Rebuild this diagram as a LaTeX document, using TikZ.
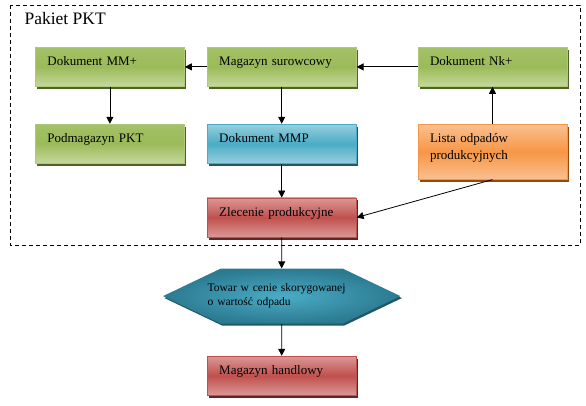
\documentclass[tikz,border=0pt]{standalone}
\usepackage{fontspec}
\setmainfont{Liberation Serif}
\usetikzlibrary{arrows.meta, shapes.symbols, positioning, shadows}
\definecolor{boxgreen}{RGB}{155,187,89}
\definecolor{boxgreenlight}{RGB}{197,216,156}
\definecolor{boxgreendark}{RGB}{79,98,40}
\definecolor{boxblue}{RGB}{75,172,198}
\definecolor{boxbluelight}{RGB}{150,207,222}
\definecolor{boxbluedark}{RGB}{33,89,104}
\definecolor{boxorange}{RGB}{247,150,70}
\definecolor{boxorangelight}{RGB}{250,192,144}
\definecolor{boxorangedark}{RGB}{152,72,7}
\definecolor{boxred}{RGB}{192,80,77}
\definecolor{boxredlight}{RGB}{219,152,150}
\definecolor{boxreddark}{RGB}{99,37,35}
\definecolor{hexteal}{RGB}{43,122,144}
\definecolor{hexteallight}{RGB}{75,172,198}
\definecolor{hextealdark}{RGB}{32,88,103}

\begin{document}
\begin{tikzpicture}[x=1pt, y=-1pt, >={Triangle[length=7pt, width=7pt]},
    pktbox/.style={draw, rectangle, minimum width=149pt, minimum height=39pt, text width=125pt, inner xsep=12pt, inner ysep=9pt, align=left, text height=9pt, text depth=12pt, font=\fontsize{13}{17}\selectfont, line width=0.8pt},
    greenbox/.style={pktbox, draw=boxgreen!80!white, top color=boxgreen!80!boxgreenlight, bottom color=boxgreenlight, middle color=boxgreen, general shadow={fill=boxgreendark, shadow xshift=2pt, shadow yshift=-2.5pt}},
    bluebox/.style={pktbox, draw=boxblue, top color=boxbluelight, bottom color=boxbluelight, middle color=boxblue, general shadow={fill=boxbluedark, shadow xshift=2pt, shadow yshift=-2.5pt}},
    orangebox/.style={pktbox, draw=boxorange, top color=boxorangelight, bottom color=boxorangelight, middle color=boxorange, general shadow={fill=boxorangedark, shadow xshift=2pt, shadow yshift=-2.5pt}},
    redbox/.style={pktbox, draw=boxred, top color=boxredlight, bottom color=boxredlight, middle color=boxred, general shadow={fill=boxreddark, shadow xshift=2pt, shadow yshift=-2.5pt}},
    hexbox/.style={signal, signal to=west and east, signal pointer angle=51, minimum height=55pt, text width=148pt, inner xsep=-13pt, align=left, font=\fontsize{11.5}{14}\selectfont, inner color=hexteallight, outer color=hexteal, general shadow={fill=hextealdark, shadow xshift=1.5pt, shadow yshift=-2pt}},
    link/.style={->, line width=0.8pt}]
    \useasboundingbox (0,0) rectangle (586,406);
    % frame of the package
    \draw[line width=0.8pt, dash pattern=on 4pt off 3pt] (10,5) rectangle (580,245);
    \node[anchor=base west, font=\fontsize{17.5}{20}\selectfont] (title) at (21,25) {Pakiet PKT};

    \node[greenbox, anchor=north west] (mmplus) at (35,47) {Dokument MM+};
    \node[greenbox, right=22pt of mmplus] (magsur) {Magazyn surowcowy};
    \node[greenbox, right=61pt of magsur] (nkplus) {Dokument Nk+};
    \node[greenbox, below=37pt of mmplus] (podmag) {Podmagazyn PKT};
    \node[bluebox, below=37pt of magsur] (mmp) {Dokument MMP};
    \node[orangebox, below=37pt of nkplus, minimum height=55pt, text depth=28pt] (lista) {Lista odpadów\\produkcyjnych};
    \node[redbox, below=34pt of mmp] (zlec) {Zlecenie produkcyjne};
    \node[hexbox, below=31pt of zlec] (towar) {Towar w cenie skorygowanej\\o wartość odpadu};
    \node[redbox, below=32pt of towar] (maghand) {Magazyn handlowy};

    \draw[link] (magsur) -- (mmplus);
    \draw[link] (nkplus) -- (magsur);
    \draw[link] (mmplus) -- (podmag);
    \draw[link] (magsur) -- (mmp);
    \draw[link] (mmp) -- (zlec);
    \draw[link] (lista) -- (nkplus);
    \draw[link] (lista.south) -- (zlec.east);
    \draw[link] (zlec) -- (towar);
    \draw[link] (towar) -- (maghand);
\end{tikzpicture}
\end{document}
